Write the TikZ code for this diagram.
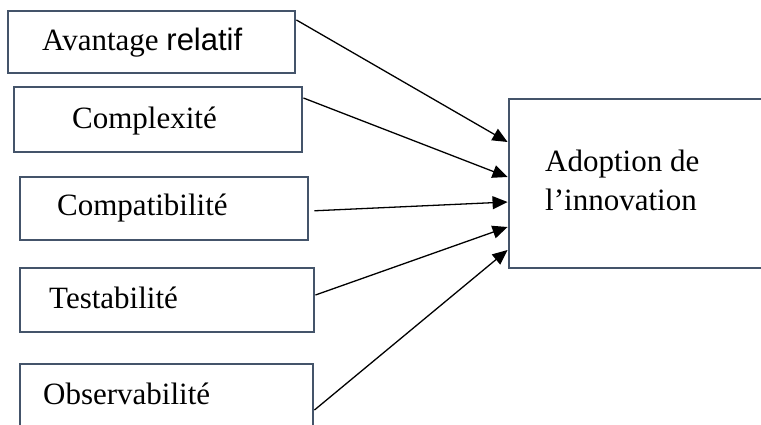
\documentclass[tikz,border=0pt]{standalone}
\usepackage{fontspec}
\setmainfont{Liberation Serif}
\setsansfont{Liberation Sans}
\usetikzlibrary{arrows.meta}
\definecolor{cadre}{RGB}{68,84,106}
\begin{document}
\begin{tikzpicture}[x=1pt, y=-1pt,
  boite/.style={draw=cadre, line width=2.9pt, inner sep=0pt},
  texte/.style={anchor=base west, inner sep=0pt, font=\fontsize{31}{38}\selectfont},
  fleche/.style={-{Triangle[length=15pt,width=13pt]}, line width=1.3pt}]
  \useasboundingbox (0,0) rectangle (761,424);
  \clip (0,0) rectangle (761,424);
  \node[boite, minimum width=287pt, minimum height=62pt] (avantage) at (151.5,42) {};
  \node[boite, minimum width=288pt, minimum height=65pt] (complexite) at (158,119.5) {};
  \node[boite, minimum width=288pt, minimum height=63pt] (compatibilite) at (164,208.5) {};
  \node[boite, minimum width=294pt, minimum height=64pt] (testabilite) at (167,300) {};
  \node[boite, minimum width=293pt, minimum height=70pt] (observabilite) at (166.5,399) {};
  \node[boite, minimum width=291pt, minimum height=169pt] (adoption) at (654.5,183.5) {};
  \node[texte] (tavantage) at (42,50) {Avantage \textsf{relatif}};
  \node[texte] (tcomplexite) at (72,128) {Complexité};
  \node[texte] (tcompatibilite) at (57,215) {Compatibilité};
  \node[texte] (ttestabilite) at (49,308) {Testabilité};
  \node[texte] (tobservabilite) at (43,404) {Observabilité};
  \node[texte] (tadoption) at (545,171) {Adoption de};
  \node[texte] (tinnovation) at (545,210) {l’innovation};
  \draw[fleche] (avantage.east |- 0,20) -- (adoption.west |- 0,142);
  \draw[fleche] (complexite.east |- 0,98) -- (adoption.west |- 0,177);
  \draw[fleche, shorten <=5pt] (compatibilite.east |- 0,211) -- (adoption.west |- 0,202);
  \draw[fleche] (testabilite.east |- 0,295) -- (adoption.west |- 0,227);
  \draw[fleche] (observabilite.east |- 0,410) -- (adoption.west |- 0,250);
\end{tikzpicture}
\end{document}
